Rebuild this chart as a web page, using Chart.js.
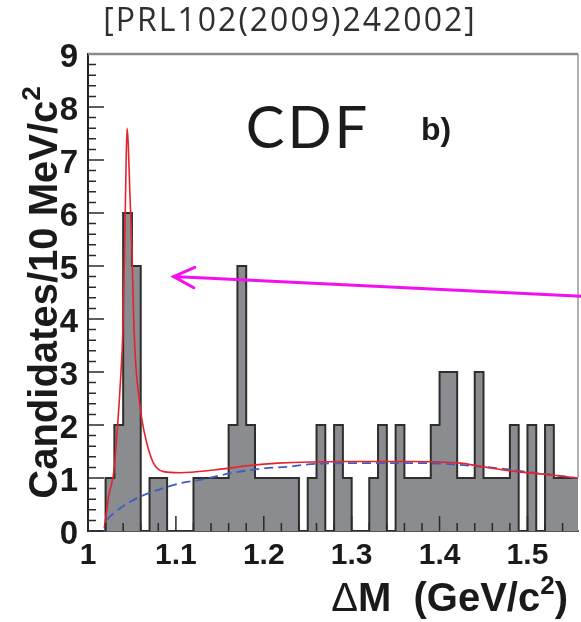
<!DOCTYPE html>
<html>
<head>
<meta charset="utf-8">
<script src="https://cdn.jsdelivr.net/npm/chart.js@4.4.1/dist/chart.umd.min.js"></script>
<style>
  body { margin: 0; background: #fff; }
  #wrap { width: 581px; height: 622px; }
</style>
</head>
<body>
<div id="wrap"><canvas id="cdfChart" width="581" height="622"></canvas></div>
<script>
// histogram, 10 MeV bins starting at dM = 1.00 GeV
const binStart = 1.0;
const binWidth = 0.01;
const counts = [0, 0, 1, 2, 6, 5, 0, 1, 1, 0,
                0, 0, 1, 1, 1, 1, 2, 5, 2, 1,
                1, 1, 1, 1, 0, 1, 2, 0, 2, 1,
                0, 0, 1, 2, 0, 2, 1, 1, 1, 2,
                3, 3, 1, 1, 3, 1, 1, 1, 2, 0,
                2, 0, 2, 1, 1, 1];

// full fit (red)
const fitX = [1.0185, 1.021, 1.0234, 1.027, 1.0292, 1.033, 1.0368, 1.0395, 1.0415, 1.0432, 1.0444,
              1.0458, 1.0478, 1.05, 1.052, 1.0545, 1.0575, 1.0613, 1.067, 1.0745, 1.086, 1.105,
              1.143, 1.181, 1.216, 1.296, 1.367, 1.4235, 1.45, 1.488, 1.526, 1.5603];
const fitY = [0.05, 0.35, 0.65, 0.9, 1.1, 1.84, 2.79, 3.7, 5.2, 6.8, 7.6,
              7.3, 6.3, 5.3, 4.0, 3.1, 2.6, 2.1, 1.65, 1.28, 1.12, 1.1,
              1.15, 1.23, 1.28, 1.31, 1.31, 1.28, 1.21, 1.12, 1.06, 0.99];

// background only (blue dashed)
const bkgX = [1.0, 1.0185, 1.022, 1.0292, 1.048, 1.067, 1.105, 1.132, 1.162, 1.1998, 1.226,
              1.253, 1.291, 1.386, 1.412, 1.469, 1.507, 1.537, 1.5603];
const bkgY = [0, 0, 0.2, 0.33, 0.55, 0.7, 0.9, 0.98, 1.09, 1.18, 1.21,
              1.26, 1.28, 1.28, 1.26, 1.18, 1.1, 1.04, 0.99];

const xMin = 1.0, xMax = 1.5575;
const yMin = 0, yMax = 9;

// magenta arrow, in data units (tip, tail)
const arrowTip = {x: 1.0974, y: 4.8};
const arrowTail = {x: 1.5612, y: 4.43};

const histPoints = counts.map((c, i) => ({x: binStart + i * binWidth, y: c}));
histPoints.push({x: binStart + counts.length * binWidth, y: counts[counts.length - 1]});

function xy(xs, ys) {
  return xs.map((x, i) => ({x: x, y: ys[i]}));
}

// draws a list of text runs one after another (for superscripts)
function drawRuns(ctx, runs, x, y, align) {
  let total = 0;
  runs.forEach(r => { ctx.font = r.font; total += ctx.measureText(r.text).width; });
  let cx = align === 'center' ? x - total / 2 : (align === 'right' ? x - total : x);
  runs.forEach(r => {
    ctx.font = r.font;
    ctx.fillText(r.text, cx, y + (r.dy || 0));
    cx += ctx.measureText(r.text).width;
  });
}

const decor = {
  id: 'decor',
  afterDatasetsDraw(chart) {
    const {ctx, chartArea: a, scales: {x, y}} = chart;
    ctx.save();
    ctx.strokeStyle = '#2a2a2a';
    ctx.lineWidth = 1.5;
    ctx.beginPath();
    // inner ticks on y
    for (let k = 0; k <= 45; k++) {
      const py = y.getPixelForValue(k * 0.2);
      const len = k % 5 === 0 ? 16 : 8;
      ctx.moveTo(a.left, py);
      ctx.lineTo(a.left + len, py);
    }
    // inner ticks on x
    for (let k = 0; k <= 27; k++) {
      const px = x.getPixelForValue(1 + k * 0.02);
      const len = k % 5 === 0 ? 15 : 8;
      ctx.moveTo(px, a.bottom);
      ctx.lineTo(px, a.bottom - len);
    }
    ctx.stroke();

    // frame
    ctx.strokeStyle = '#8a8a8a';
    ctx.lineWidth = 2.5;
    ctx.beginPath();
    ctx.moveTo(a.left, a.top);
    ctx.lineTo(a.right, a.top);
    ctx.stroke();
    ctx.lineWidth = 1.5;
    ctx.strokeStyle = '#9a9a9a';
    ctx.beginPath();
    ctx.moveTo(a.right, a.top);
    ctx.lineTo(a.right, y.getPixelForValue(1));
    ctx.stroke();
    ctx.restore();
  },
  afterDraw(chart) {
    const {ctx, chartArea: a, scales: {x, y}} = chart;
    ctx.save();
    ctx.fillStyle = '#2f2f2f';
    ctx.textBaseline = 'middle';
    ctx.textAlign = 'center';
    ctx.font = '500 32px "Open Sans"';
    ctx.letterSpacing = '2px';
    ctx.fillText('[PRL102(2009)242002]', 290, 22);

    ctx.fillStyle = '#1b1b1b';
    ctx.font = '58px Lato';
    ctx.letterSpacing = '3px';
    ctx.fillText('CDF', 308, 129);
    ctx.letterSpacing = '0px';
    ctx.font = 'bold 32px "Liberation Sans"';
    ctx.fillText('b)', 436, 131);

    // axis titles
    ctx.fillStyle = '#1a1a1a';
    ctx.textAlign = 'left';
    ctx.textBaseline = 'alphabetic';
    drawRuns(ctx, [
      {text: '\u0394', font: '40px "Liberation Sans"'},
      {text: 'M  (GeV/c', font: 'bold 40px "Liberation Sans"'},
      {text: '2', font: 'bold 26px "Liberation Sans"', dy: -17},
      {text: ')', font: 'bold 40px "Liberation Sans"'}
    ], a.right - 10, 611, 'right');

    ctx.translate(57, (a.top + a.bottom) / 2);
    ctx.rotate(-Math.PI / 2);
    drawRuns(ctx, [
      {text: 'Candidates/10 MeV/c', font: 'bold 40px "Liberation Sans"'},
      {text: '2', font: 'bold 26px "Liberation Sans"', dy: -17}
    ], 0, 0, 'center');
    ctx.setTransform(1, 0, 0, 1, 0, 0);

    // arrow
    const tx = x.getPixelForValue(arrowTip.x), ty = y.getPixelForValue(arrowTip.y);
    const sx = x.getPixelForValue(arrowTail.x), sy = y.getPixelForValue(arrowTail.y);
    const ang = Math.atan2(sy - ty, sx - tx);
    ctx.strokeStyle = '#f20ff0';
    ctx.lineWidth = 3;
    ctx.lineCap = 'round';
    ctx.beginPath();
    ctx.moveTo(sx, sy);
    ctx.lineTo(tx, ty);
    ctx.moveTo(tx + 23 * Math.cos(ang - 0.46), ty + 23 * Math.sin(ang - 0.46));
    ctx.lineTo(tx, ty);
    ctx.lineTo(tx + 23 * Math.cos(ang + 0.46), ty + 23 * Math.sin(ang + 0.46));
    ctx.stroke();
    ctx.restore();
  }
};

new Chart(document.getElementById('cdfChart'), {
  type: 'line',
  data: {
    datasets: [
      {
        label: 'fit',
        data: xy(fitX, fitY),
        borderColor: '#e8222c',
        borderWidth: 1.6,
        pointRadius: 0,
        cubicInterpolationMode: 'monotone',
        fill: false
      },
      {
        label: 'background',
        data: xy(bkgX, bkgY),
        borderColor: '#3d5cc4',
        borderWidth: 1.8,
        borderDash: [9, 5],
        pointRadius: 0,
        cubicInterpolationMode: 'monotone',
        fill: false
      },
      {
        label: 'data',
        data: histPoints,
        stepped: true,
        borderColor: '#2e2e2e',
        borderWidth: 2,
        backgroundColor: '#8b8c8f',
        pointRadius: 0,
        fill: 'origin'
      }
    ]
  },
  options: {
    responsive: false,
    animation: false,
    layout: {padding: {top: 54, right: 3, left: 0, bottom: 0}},
    plugins: {legend: {display: false}, tooltip: {enabled: false}},
    scales: {
      x: {
        type: 'linear',
        min: xMin,
        max: xMax,
        grid: {display: false, drawTicks: false},
        border: {display: true, color: '#555', width: 2},
        ticks: {
          stepSize: 0.1,
          includeBounds: false,
          maxRotation: 0,
          padding: 7,
          color: '#1a1a1a',
          font: {family: 'Liberation Sans', size: 30, weight: 'bold'},
          callback: v => String(Number(v.toFixed(1)))
        },
        afterFit: s => { s.height = 91; }
      },
      y: {
        min: yMin,
        max: yMax,
        grid: {display: false, drawTicks: false},
        border: {display: true, color: '#222', width: 2},
        ticks: {
          stepSize: 1,
          padding: 10,
          labelOffset: 4,
          color: '#1a1a1a',
          font: {family: 'Liberation Sans', size: 33, weight: 'bold'},
          callback: v => String(v)
        },
        afterFit: s => { s.width = 88; }
      }
    }
  },
  plugins: [decor]
});
</script>
</body>
</html>
